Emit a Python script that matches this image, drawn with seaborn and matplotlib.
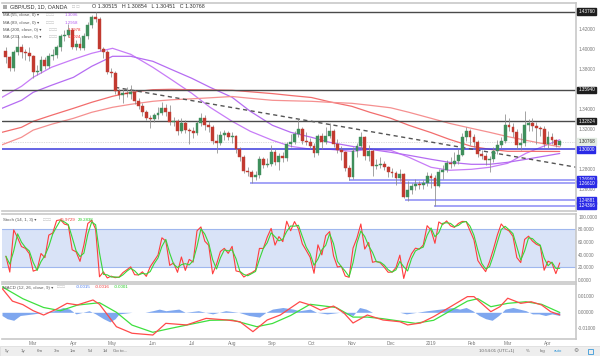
import numpy as np
import pandas as pd
import matplotlib
matplotlib.use("Agg")
import matplotlib.pyplot as plt
import seaborn as sns
from matplotlib.transforms import blended_transform_factory as btf
from matplotlib.patches import Rectangle

sns.set_theme(style="white")
plt.rcParams['font.family'] = ['Liberation Sans', 'DejaVu Sans']

# ---------------- data ----------------
candle_start = '2018-02-08'   # one candle every 3 calendar days
first_open = 1.398
closes = [1.392,1.381,1.397,1.402,1.397,1.396,1.393,1.377,1.378,1.389,1.383,1.393,1.394,1.402,1.413,1.414,1.419,1.402,1.405,1.401,
          1.413,1.424,1.432,1.430,1.400,1.397,1.377,1.376,1.358,1.354,1.356,1.355,1.357,1.348,1.343,1.337,1.331,1.330,1.334,1.336,
          1.341,1.337,1.327,1.328,1.318,1.326,1.319,1.318,1.316,1.326,1.331,1.324,1.322,1.308,1.306,1.314,1.316,1.312,1.313,1.300,
          1.292,1.278,1.277,1.272,1.274,1.290,1.284,1.285,1.297,1.287,1.293,1.291,1.305,1.307,1.315,1.320,1.308,1.307,1.303,1.296,
          1.313,1.307,1.313,1.318,1.305,1.299,1.297,1.281,1.272,1.298,1.303,1.312,1.293,1.298,1.283,1.284,1.285,1.282,1.277,1.276,
          1.271,1.275,1.252,1.259,1.263,1.265,1.264,1.266,1.273,1.271,1.263,1.277,1.279,1.286,1.285,1.288,1.294,1.312,1.318,1.312,
          1.307,1.295,1.293,1.289,1.290,1.298,1.304,1.308,1.324,1.322,1.317,1.304,1.306,1.324,1.326,1.323,1.321,1.320,1.305,1.312,
          1.309,1.304,1.308]
highs = [1.402,1.393,1.399,1.414,1.405,1.400,1.402,1.394,1.384,1.393,1.392,1.396,1.400,1.404,1.415,1.419,1.425,1.421,1.409,1.412,
         1.416,1.427,1.434,1.4376,1.432,1.402,1.399,1.381,1.378,1.360,1.360,1.362,1.364,1.359,1.351,1.346,1.339,1.334,1.336,1.342,
         1.347,1.345,1.344,1.332,1.330,1.331,1.329,1.321,1.322,1.328,1.336,1.334,1.328,1.324,1.315,1.318,1.319,1.318,1.317,1.314,
         1.302,1.294,1.282,1.279,1.278,1.293,1.292,1.291,1.304,1.300,1.296,1.297,1.307,1.315,1.318,1.3298,1.322,1.317,1.311,1.306,
         1.315,1.316,1.322,1.326,1.320,1.310,1.303,1.298,1.284,1.302,1.306,1.3175,1.313,1.304,1.300,1.290,1.292,1.288,1.283,1.281,
         1.278,1.280,1.276,1.268,1.266,1.270,1.268,1.269,1.277,1.276,1.274,1.280,1.284,1.289,1.292,1.297,1.300,1.316,1.322,1.320,
         1.315,1.309,1.299,1.296,1.293,1.302,1.309,1.312,1.335,1.331,1.326,1.320,1.316,1.338,1.330,1.331,1.327,1.323,1.323,1.318,
         1.316,1.310,1.309]
lows = [1.386,1.378,1.378,1.394,1.391,1.389,1.388,1.371,1.374,1.376,1.380,1.381,1.389,1.391,1.398,1.408,1.412,1.400,1.399,1.399,
        1.399,1.410,1.421,1.427,1.398,1.391,1.375,1.372,1.355,1.350,1.346,1.352,1.350,1.345,1.340,1.333,1.329,1.321,1.327,1.330,
        1.334,1.333,1.324,1.323,1.314,1.316,1.316,1.305,1.311,1.314,1.323,1.319,1.317,1.305,1.296,1.304,1.309,1.309,1.306,1.296,
        1.288,1.276,1.273,1.2661,1.269,1.271,1.281,1.282,1.283,1.284,1.279,1.287,1.288,1.302,1.305,1.312,1.305,1.304,1.300,1.292,
        1.294,1.300,1.305,1.311,1.302,1.296,1.289,1.278,1.2696,1.270,1.292,1.300,1.289,1.288,1.273,1.280,1.281,1.279,1.272,1.272,
        1.264,1.268,1.251,1.2488,1.255,1.259,1.260,1.260,1.263,1.261,1.2437,1.262,1.270,1.277,1.281,1.283,1.285,1.293,1.308,1.304,
        1.302,1.292,1.290,1.284,1.277,1.287,1.295,1.301,1.306,1.318,1.312,1.300,1.299,1.303,1.318,1.318,1.305,1.313,1.302,1.301,
        1.305,1.302,1.303]

ma_dates = ['2018-02-05','2018-02-20','2018-03-01','2018-03-15','2018-04-01','2018-04-15','2018-05-01','2018-05-15',
            '2018-06-01','2018-06-15','2018-07-01','2018-07-15','2018-08-01','2018-08-15','2018-09-01','2018-09-15',
            '2018-10-01','2018-10-15','2018-11-01','2018-11-15','2018-12-01','2018-12-15','2019-01-01','2019-01-15',
            '2019-02-01','2019-02-15','2019-03-01','2019-03-15','2019-04-10']
ma55  = [1.352,1.363,1.372,1.382,1.390,1.396,1.401,1.395,1.382,1.370,1.356,1.342,1.328,1.318,1.309,1.303,
         1.300,1.300,1.298,1.300,1.299,1.292,1.282,1.279,1.280,1.282,1.286,1.296,1.3096]
ma89  = [1.341,1.349,1.357,1.364,1.372,1.383,1.393,1.393,1.388,1.380,1.371,1.362,1.352,1.338,1.324,1.317,
         1.312,1.307,1.303,1.300,1.297,1.294,1.290,1.287,1.285,1.285,1.287,1.290,1.2958]
ma200 = [1.317,1.322,1.328,1.334,1.341,1.347,1.353,1.357,1.3596,1.3600,1.3596,1.3594,1.359,1.3575,1.3557,1.3538,
         1.3518,1.3475,1.343,1.337,1.331,1.324,1.3167,1.310,1.303,1.300,1.298,1.298,1.2978]
ma233 = [1.3045,1.312,1.3192,1.325,1.331,1.337,1.342,1.345,1.348,1.3495,1.3505,1.3515,1.3528,1.351,1.349,1.3485,
         1.348,1.347,1.346,1.344,1.3415,1.337,1.331,1.326,1.321,1.317,1.3127,1.309,1.3024]

black_levels = [1.43760, 1.35940, 1.32824]
blue_levels = [1.30000, 1.26960, 1.26610, 1.24881, 1.24366]
blue_starts = ['2018-02-05', '2018-10-30', '2018-08-15', '2018-12-12', '2019-01-03']
last_price = 1.30768
trend_dates = ['2018-05-03', '2019-04-23']
trend_vals = [1.362, 1.282]

macd_dates = ['2018-02-05','2018-02-13','2018-02-21','2018-03-01','2018-03-09','2018-03-19','2018-03-27','2018-04-04',
              '2018-04-16','2018-04-21','2018-05-04','2018-05-16','2018-06-01','2018-06-11','2018-06-27','2018-07-12',
              '2018-07-28','2018-08-07','2018-08-17','2018-08-28','2018-09-07','2018-09-22','2018-09-30','2018-10-08',
              '2018-10-18','2018-10-26','2018-11-02','2018-11-13','2018-11-25','2018-12-08','2018-12-14','2018-12-24',
              '2019-01-03','2019-01-16','2019-01-29','2019-02-03','2019-02-16','2019-02-23','2019-03-01','2019-03-11',
              '2019-03-19','2019-03-27','2019-04-03','2019-04-10']
macd_line = [0.0150,0.0070,0.0048,0.0010,-0.0017,0.0020,0.0056,0.0046,0.0077,0.0050,-0.0090,-0.0131,-0.0142,-0.0069,
             -0.0079,-0.0038,-0.0048,-0.0059,-0.0121,-0.0048,-0.0017,0.0066,0.0046,0.0014,0.0039,-0.0004,-0.0067,-0.0017,
             -0.0048,-0.0059,-0.0079,-0.0067,-0.0027,0.0035,0.0098,0.0098,0.0004,0.0035,0.0088,0.0056,0.0066,0.0046,0.0004,-0.0016]
signal_dates = ['2018-02-05','2018-02-21','2018-03-09','2018-03-22','2018-04-04','2018-04-21','2018-05-04','2018-05-16',
                '2018-06-01','2018-06-15','2018-06-30','2018-07-15','2018-08-01','2018-08-20','2018-09-01','2018-09-15',
                '2018-09-30','2018-10-10','2018-10-20','2018-11-02','2018-11-13','2018-11-25','2018-12-08','2018-12-20',
                '2019-01-03','2019-01-16','2019-01-29','2019-02-06','2019-02-16','2019-03-01','2019-03-15','2019-03-27','2019-04-10']
signal_line = [0.0160,0.0085,0.0030,0.0010,0.0045,0.0060,0.0000,-0.0080,-0.0125,-0.0100,-0.0075,-0.0050,-0.0048,-0.0090,
               -0.0070,-0.0020,0.0050,0.0040,0.0030,-0.0030,-0.0030,-0.0040,-0.0055,-0.0069,-0.0050,0.0010,0.0070,0.0085,
               0.0035,0.0056,0.0066,0.0050,-0.0001]
hist_dates = ['2018-02-05','2018-02-09','2018-02-14','2018-02-19','2018-03-01','2018-03-09','2018-03-17','2018-03-24',
              '2018-03-29','2018-04-03','2018-04-08','2018-04-13','2018-04-18','2018-04-24','2018-04-29','2018-05-03',
              '2018-05-06','2018-05-16','2018-05-26','2018-06-01','2018-06-06','2018-06-11','2018-06-21','2018-06-26',
              '2018-07-06','2018-07-17','2018-07-27','2018-08-06','2018-08-14','2018-08-22','2018-08-27','2018-09-01',
              '2018-09-09','2018-09-17','2018-09-22','2018-09-30','2018-10-05','2018-10-13','2018-10-23','2018-11-02',
              '2018-11-07','2018-11-12','2018-11-17','2018-11-27','2018-12-08','2018-12-13','2018-12-21','2018-12-29',
              '2019-01-08','2019-01-18','2019-01-23','2019-01-28','2019-02-02','2019-02-07','2019-02-12','2019-02-17',
              '2019-02-22','2019-02-27','2019-03-05','2019-03-10','2019-03-15','2019-03-20','2019-03-25','2019-03-30',
              '2019-04-04','2019-04-10']
hist_vals = [-0.002,-0.004,-0.005,-0.002,-0.001,0.000,0.001,0.003,0.002,-0.001,0.000,0.001,-0.001,-0.004,-0.006,-0.004,
             -0.001,0.000,0.000,0.001,0.002,0.001,0.002,0.000,0.001,-0.001,0.001,0.000,-0.002,-0.003,0.000,0.002,
             0.003,0.002,0.001,0.002,0.000,-0.001,0.000,-0.002,0.003,0.002,0.000,0.000,0.000,-0.001,0.000,0.001,
             0.002,0.003,0.002,0.003,0.001,-0.002,-0.004,-0.005,-0.002,0.002,0.003,0.002,0.001,-0.001,-0.001,-0.002,
             -0.001,-0.002]

month_ticks = ['2018-03-01','2018-04-01','2018-05-01','2018-06-01','2018-07-01','2018-08-01','2018-09-01','2018-10-01',
               '2018-11-01','2018-12-01','2019-01-01','2019-02-01','2019-03-01','2019-04-01']
month_labels = ['Mar','Apr','May','Jun','Jul','Aug','Sep','Oct','Nov','Dec','2019','Feb','Mar','Apr']

# ---------------- figure ----------------
W, H = 600, 356
fig = plt.figure(figsize=(6, 3.56), dpi=100)
fig.patch.set_facecolor('white')

def ax_px(x0, y0, x1, y1):
    return fig.add_axes([x0 / W, 1 - y1 / H, (x1 - x0) / W, (y1 - y0) / H])

def ftxt(x, y, s, **kw):
    kw.setdefault('va', 'center')
    kw.setdefault('fontsize', 3.2)
    kw.setdefault('color', '#555555')
    fig.text(x / W, 1 - y / H, s, **kw)

ax_p = ax_px(2, 3, 576, 211)
ax_s = ax_px(2, 214, 576, 282)
ax_m = ax_px(2, 284, 576, 339)

xmin, xmax = pd.Timestamp('2018-02-05'), pd.Timestamp('2019-04-22 12:00')
for a in (ax_p, ax_s, ax_m):
    a.set_facecolor('white')
    for sp in a.spines.values():
        sp.set_color('#c8c8c8')
        sp.set_linewidth(1.2)
    a.spines['left'].set_visible(False)
    a.tick_params(axis='both', length=0, labelsize=3.4, labelcolor='#777777', pad=1.5)
    a.yaxis.tick_right()
    a.grid(False)

# ---- price panel ----
dates = pd.date_range(candle_start, periods=len(closes), freq='3D')
opens = [first_open] + closes[:-1]
df = pd.DataFrame({'date': dates, 'open': opens, 'close': closes, 'high': highs, 'low': lows})
up = df['close'] >= df['open']
col = np.where(up, '#3f8f5c', '#c23a30')
ax_p.vlines(df['date'], df['low'], df['high'], color='#8a8a8a', lw=0.55, zorder=3)
body = (df['close'] - df['open']).abs().clip(lower=0.0007)
ax_p.bar(df['date'], body, bottom=np.minimum(df['open'], df['close']), width=2.2,
         color=col, edgecolor=col, linewidth=0.3, zorder=4)

mad = pd.to_datetime(ma_dates)
sns.lineplot(x=mad, y=ma55, ax=ax_p, color='#c77cf7', lw=0.9, zorder=2)
sns.lineplot(x=mad, y=ma89, ax=ax_p, color='#b56cf2', lw=0.9, zorder=2)
sns.lineplot(x=mad, y=ma200, ax=ax_p, color='#f26d6d', lw=0.9, zorder=2)
sns.lineplot(x=mad, y=ma233, ax=ax_p, color='#f59090', lw=0.9, zorder=2)

for v in black_levels:
    ax_p.axhline(v, color='#4a4a4a', lw=1.0, zorder=2)
for v, s in zip(blue_levels, blue_starts):
    ax_p.hlines(v, pd.Timestamp(s), xmax, color='#3b3bdc' if v == 1.3 else '#8a8af5', lw=1.1, zorder=2)
ax_p.axhline(last_price, color='#bbbbbb', lw=0.5, ls=(0, (1, 1.5)), zorder=1)
ax_p.plot(pd.to_datetime(trend_dates), trend_vals, color='#555555', lw=1.0, ls=(0, (3, 2.5)), zorder=2)

ax_p.set_ylim(1.2383, 1.4463)
pticks = [1.26, 1.28, 1.32, 1.34, 1.38, 1.40, 1.42]
ax_p.set_yticks(pticks)
ax_p.set_yticklabels(['%.5f' % v for v in pticks])
ax_p.set_xticks([])
ax_p.set_xlabel(''); ax_p.set_ylabel('')

tr = btf(ax_p.transAxes, ax_p.transData)
def box_label(v, fc, tc='white'):
    ax_p.text(1.004, v, '%.5f' % v, transform=tr, fontsize=3.3, color=tc, va='center', ha='left',
              bbox=dict(boxstyle='square,pad=0.18', fc=fc, ec=fc), zorder=10, clip_on=False)
for v in black_levels:
    box_label(v, '#1e1e1e')
for v in blue_levels:
    box_label(v, '#2a2ae6')
box_label(last_price, '#e3ece3', '#333333')

# ---- stochastic ----
hh = df['high'].rolling(7, min_periods=1).max()
ll = df['low'].rolling(7, min_periods=1).min()
k = 100 * (df['close'] - ll) / (hh - ll)
dline = k.rolling(2, min_periods=1).mean()
ax_s.axhspan(20, 80, color='#d9e3f7', lw=0, zorder=0)
ax_s.axhline(20, color='#9fb7ee', lw=0.8, zorder=1)
ax_s.axhline(80, color='#9fb7ee', lw=0.8, zorder=1)
sns.lineplot(x=df['date'], y=k.values, ax=ax_s, color='#ff3d3d', lw=0.8, zorder=3)
sns.lineplot(x=df['date'], y=dline.values, ax=ax_s, color='#39d639', lw=0.8, zorder=4)
ax_s.set_ylim(-3.2, 104.3)
sticks = [0, 20, 40, 60, 80, 100]
ax_s.set_yticks(sticks)
ax_s.set_yticklabels(['%.4f' % v for v in sticks])
ax_s.set_xticks([])
ax_s.set_xlabel(''); ax_s.set_ylabel('')

# ---- MACD ----
ax_m.fill_between(pd.to_datetime(hist_dates), 0, hist_vals, color='#7fa7ef', lw=0, zorder=1)
sns.lineplot(x=pd.to_datetime(signal_dates), y=signal_line, ax=ax_m, color='#3ee03e', lw=0.9, zorder=3)
sns.lineplot(x=pd.to_datetime(macd_dates), y=macd_line, ax=ax_m, color='#ff4a4a', lw=0.9, zorder=4)
ax_m.set_ylim(-0.01669, 0.01769)
ax_m.set_yticks([-0.01, 0, 0.01])
ax_m.set_yticklabels(['-0.01000', '0.00000', '0.01000'])
ax_m.set_xticks(pd.to_datetime(month_ticks))
ax_m.set_xticklabels(month_labels)
ax_m.tick_params(axis='x', pad=1.5)
ax_m.set_xlabel(''); ax_m.set_ylabel('')
for a in (ax_p, ax_s, ax_m):
    a.set_xlim(xmin, xmax)

# ---- header texts ----
fig.patches.append(Rectangle((3 / W, 1 - 9 / H), 4 / W, 4 / H, transform=fig.transFigure, fc='#aaaaaa', ec='none'))
ftxt(10, 7, 'GBP/USD, 1D, OANDA', fontsize=4.0, color='#333333')
ftxt(72, 7, '□ □', fontsize=3.6, color='#bbbbbb')
ftxt(92, 7, 'O 1.30515   H 1.30854   L 1.30451   C 1.30768', fontsize=3.9, color='#333333')
ma_rows = [('MA (55, close, 0) ▾', '1.3096', '#b35cf0', 15.0, 65),
           ('MA (89, close, 0) ▾', '1.2958', '#b35cf0', 22.7, 65),
           ('MA (200, close, 0) ▾', '1.2978', '#ee3333', 30.0, 68),
           ('MA (233, close, 0) ▾', '1.3024', '#ee3333', 37.3, 68)]
for lab, val, c, y, xv in ma_rows:
    ftxt(3, y, lab)
    ftxt(xv - 19, y, '□□□', color='#bbbbbb')
    ftxt(xv, y, val, color=c)

ftxt(3, 220, 'Stoch (14, 1, 3) ▾')
ftxt(43, 220, '□□□', color='#bbbbbb')
ftxt(60, 220, '35.9729', color='#ee3333')
ftxt(78, 220, '29.2838', color='#22cc22')

ftxt(3, 287.5, 'MACD (12, 26, close, 9) ▾')
ftxt(57, 287.5, '□□□', color='#bbbbbb')
ftxt(76, 287.5, '-0.0015', color='#4477ee')
ftxt(95, 287.5, '-0.0016', color='#ee3333')
ftxt(114, 287.5, '-0.0001', color='#22cc22')

# ---- bottom toolbar ----
fig.patches.append(Rectangle((0, 0), 1, 10 / H, transform=fig.transFigure, fc='#eeeeee', ec='#d8d8d8', lw=0.5, zorder=0))
for x, s in [(7, '5y'), (23, '1y'), (40, '6m'), (57, '3m'), (73, '1m'), (90, '5d'), (105, '1d')]:
    ftxt(x, 351, s, ha='center', color='#666666')
ftxt(113, 351, 'Go to...', color='#666666')
ftxt(497, 351, '10:54:01 (UTC+1)', ha='center', color='#666666')
ftxt(528, 351, '%', ha='center', color='#666666')
ftxt(543, 351, 'log', ha='center', color='#666666')
ftxt(558, 351, 'auto', ha='center', color='#3a9ad9')
ftxt(576, 351, '⚙', fontsize=4.2, ha='center', color='#777777')
# full-screen icon (drawn as a small outlined square)
fig.patches.append(Rectangle((587.5 / W, 1 - 353.5 / H), 5 / W, 5 / H, transform=fig.transFigure,
                             fc='none', ec='#3a9ad9', lw=0.6))

fig.savefig('out.png', dpi=100)
